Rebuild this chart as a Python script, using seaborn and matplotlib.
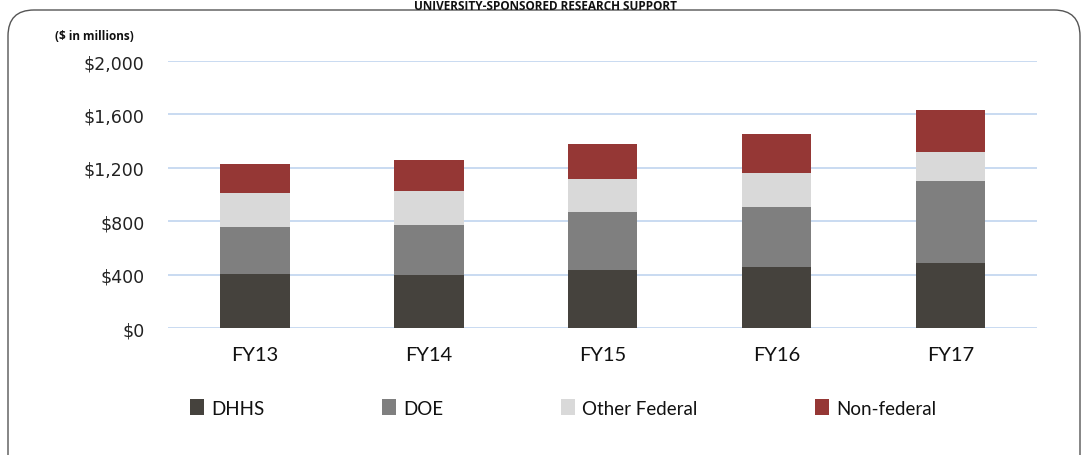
import numpy as np
import pandas as pd
import matplotlib
matplotlib.use("Agg")
import matplotlib.pyplot as plt
from matplotlib.patches import Patch, FancyBboxPatch
from matplotlib.transforms import IdentityTransform
import seaborn as sns

years = ["FY13", "FY14", "FY15", "FY16", "FY17"]
dhhs = [405, 400, 432, 460, 488]
doe = [355, 372, 440, 450, 613]
other_federal = [250, 253, 247, 250, 215]
non_federal = [222, 237, 260, 290, 320]

series_names = ["DHHS", "DOE", "Other Federal", "Non-federal"]
colors = ["#45423d", "#7f7f7f", "#d9d9d9", "#953735"]

df = pd.DataFrame({"year": years, "DHHS": dhhs, "DOE": doe,
                   "Other Federal": other_federal, "Non-federal": non_federal})
# cumulative totals for stacking
cum = df[series_names].cumsum(axis=1)
cum["year"] = df["year"]

sns.set_style("white")
plt.rcParams["font.family"] = ["Open Sans", "DejaVu Sans"]
narrow = ["Lato", "DejaVu Sans"]

fig = plt.figure(figsize=(10.84, 4.56), dpi=100)
ax = fig.add_axes([0.155, 0.2785, 0.802, 0.5855])

# draw tallest layer first so lower layers sit on top
for name, col in reversed(list(zip(series_names, colors))):
    sns.barplot(data=cum, x="year", y=name, color=col, saturation=1,
                width=0.4, linewidth=0, ax=ax, zorder=3)

ax.set_ylim(0, 2000)
ax.set_yticks(np.arange(0, 2001, 400))
ax.set_yticklabels([f"${v:,}" for v in range(0, 2001, 400)], fontsize=12.5,
                   color="#222222", fontfamily="DejaVu Sans")
ax.set_xlabel("")
ax.set_ylabel("")
ax.yaxis.grid(True, color="#c5d8f0", linewidth=1.3, zorder=0)
ax.set_axisbelow(True)
ax.tick_params(axis="y", length=0, pad=17)
ax.tick_params(axis="x", length=0, pad=13)
for lab in ax.get_xticklabels():
    lab.set_fontfamily(narrow)
    lab.set_fontsize(14.5)
    lab.set_color("#111111")
sns.despine(ax=ax, left=True, bottom=True, top=True, right=True)

handles = [Patch(facecolor=c, edgecolor="none") for c in colors]
leg = fig.legend(handles, series_names, loc="center left",
                 bbox_to_anchor=(0.160, 0.103), ncol=4, frameon=False,
                 handlelength=0.75, handleheight=0.9, handletextpad=0.35,
                 columnspacing=6.3,
                 prop={"family": narrow, "size": 13.5})
for t in leg.get_texts():
    t.set_color("#111111")

fig.text(0.051, 0.919, "($ in millions)", fontsize=8.5, fontweight="bold",
         color="#111111", va="center")
fig.text(0.503, 0.999, "UNIVERSITY-SPONSORED RESEARCH SUPPORT",
         fontsize=8.5, fontweight="bold", ha="center", va="top",
         color="#111111")

# rounded frame around the chart, drawn in pixel coordinates
border = FancyBboxPatch((8, -30), 1072, 456 - 11 + 30,
                        boxstyle="round,pad=0,rounding_size=26",
                        transform=IdentityTransform(), facecolor="none",
                        edgecolor="#555555", linewidth=1.0)
fig.patches.append(border)

fig.savefig("out.png", dpi=100)
